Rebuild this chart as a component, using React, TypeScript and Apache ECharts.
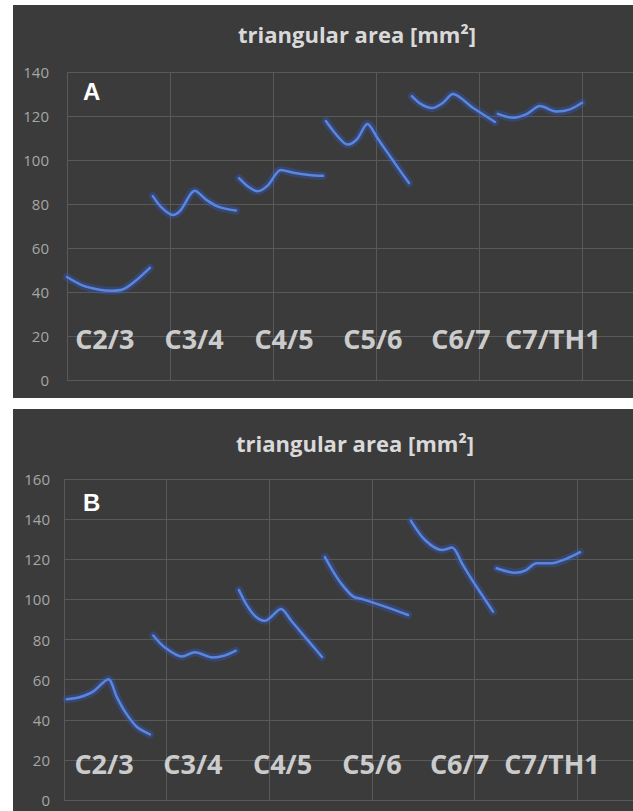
import { useEffect, useRef } from "react";
import * as echarts from "echarts";

const categories = ["C2/3", "C3/4", "C4/5", "C5/6", "C6/7", "C7/TH1"];
const chartTitle = "triangular area [mm²]";
const panelLetters = ["A", "B"];

const yMaxA = 140;
const yMaxB = 160;
const yStep = 20;
const xMax = 36;
const xStep = 6;

// segments of panel A, [position, area]
const segA1: [number, number][] = [[0, 46.8], [0.9, 43], [1.9, 41], [2.6, 40.6], [3.2, 41], [3.9, 44.5], [4.83, 51]];
const segA2: [number, number][] = [[5.0, 83.6], [5.5, 78.5], [6.15, 75], [6.6, 77], [7.45, 86], [8.1, 82], [8.8, 78.8], [9.84, 77]];
const segA3: [number, number][] = [[10.02, 91.8], [10.55, 88], [11.1, 85.8], [11.7, 88.5], [12.46, 95.5], [13.2, 94.2], [14.1, 93.2], [14.9, 92.8]];
const segA4: [number, number][] = [[15.08, 117.7], [15.7, 111.4], [16.35, 107], [16.9, 109.5], [17.5, 116.4], [18.1, 109.8], [18.7, 103], [19.3, 96.3], [19.92, 89.5]];
const segA5: [number, number][] = [[20.09, 129], [20.6, 125.5], [21.26, 123.6], [21.9, 126], [22.48, 130], [23.6, 124], [24.93, 117.3]];
const segA6: [number, number][] = [[25.1, 121], [25.98, 119.2], [26.8, 121], [27.55, 124.5], [28.54, 122], [29.3, 123], [30.0, 126]];

// segments of panel B
const segB1: [number, number][] = [[0.16, 50.2], [0.9, 51.2], [1.7, 54], [2.59, 60.2], [3.08, 51.5], [3.57, 44], [4.25, 36.5], [5.03, 32.7]];
const segB2: [number, number][] = [[5.22, 82], [5.9, 76], [6.9, 71.5], [7.66, 73.6], [8.7, 71], [9.4, 72], [10.05, 74.4]];
const segB3: [number, number][] = [[10.23, 104.7], [10.7, 97], [11.2, 91.5], [11.75, 89.3], [12.69, 95.2], [13.3, 89.2], [13.9, 83.2], [14.5, 77.2], [15.09, 71.3]];
const segB4: [number, number][] = [[15.26, 121.1], [15.7, 114.5], [16.2, 108], [16.9, 101.5], [17.5, 100], [18.9, 96], [20.12, 92.2]];
const segB5: [number, number][] = [[20.29, 139.1], [21.11, 129.6], [22.1, 124.6], [22.69, 125.8], [23.3, 117.5], [23.9, 109.2], [24.5, 101.5], [25.09, 93.9]];
const segB6: [number, number][] = [[25.3, 115.5], [26.37, 113.3], [27.0, 114.5], [27.64, 118], [28.52, 118], [29.4, 120.3], [30.18, 123.5]];

const segmentsA = [segA1, segA2, segA3, segA4, segA5, segA6];
const segmentsB = [segB1, segB2, segB3, segB4, segB5, segB6];

// where each category name sits in the plot
const labelPosA = [2.2, 7.4, 12.64, 17.82, 22.95, 28.3];
const labelPosB = [2.34, 7.54, 12.78, 18.01, 23.13, 28.54];
const labelValA = 19;
const labelValB = 18;

const BG = "#3b3b3b";
const GRID = "#595959";
const LINE = "#5b86e0";

export default function App() {
  const ref = useRef<HTMLDivElement>(null);
  useEffect(() => {
    if (!ref.current) return;
    const chart = echarts.init(ref.current, undefined, { renderer: "svg" });

    const xAxisBase = (gridIndex: number) => ({
      type: "value",
      gridIndex,
      min: 0,
      max: xMax,
      interval: xStep,
      axisLine: { show: false },
      axisTick: { show: false },
      axisLabel: { show: false },
      splitLine: { show: true, lineStyle: { color: GRID, width: 1 } },
    });
    const yAxisBase = (gridIndex: number, max: number, margin: number) => ({
      type: "value",
      gridIndex,
      min: 0,
      max,
      interval: yStep,
      axisLine: { show: false },
      axisTick: { show: false },
      axisLabel: { color: "#a6a6a6", fontSize: 15, fontFamily: "Open Sans", margin },
      splitLine: { show: true, lineStyle: { color: GRID, width: 1 } },
    });

    const lineSeries = (segs: [number, number][][], idx: number) =>
      segs.flatMap((seg) => [
        {
          type: "line",
          xAxisIndex: idx,
          yAxisIndex: idx,
          data: seg,
          smooth: 0.3,
          symbol: "none",
          showSymbol: false,
          silent: true,
          lineStyle: { color: "rgba(45,95,230,0.3)", width: 8, cap: "round", join: "round" },
          z: 2,
        },
        {
          type: "line",
          xAxisIndex: idx,
          yAxisIndex: idx,
          data: seg,
          smooth: 0.3,
          symbol: "none",
          showSymbol: false,
          lineStyle: { color: LINE, width: 2.5, cap: "round", join: "round" },
          z: 3,
        },
      ]);

    const labelSeries = (pos: number[], val: number, idx: number) => ({
      type: "scatter",
      xAxisIndex: idx,
      yAxisIndex: idx,
      symbolSize: 1,
      itemStyle: { color: "rgba(0,0,0,0)" },
      data: categories.map((c, i) => ({ name: c, value: [pos[i], val] })),
      label: {
        show: true,
        position: "inside",
        formatter: "{b}",
        color: "#f4f4f4",
        fontSize: 27,
        fontWeight: "bold",
        fontFamily: "Open Sans",
      },
      z: 4,
    });

    chart.setOption({
      animation: false,
      backgroundColor: "#ffffff",
      graphic: [
        { type: "rect", z: -100, shape: { x: 13, y: 5, width: 700, height: 393 }, style: { fill: BG } },
        { type: "rect", z: -100, shape: { x: 13, y: 409, width: 700, height: 402 }, style: { fill: BG } },
        {
          type: "text", x: 357, y: 34, z: 10,
          style: { text: chartTitle, fill: "#d9d9d9", font: "bold 22px 'Open Sans'", textAlign: "center", textVerticalAlign: "middle" },
        },
        {
          type: "text", x: 355, y: 443, z: 10,
          style: { text: chartTitle, fill: "#d9d9d9", font: "bold 22px 'Open Sans'", textAlign: "center", textVerticalAlign: "middle" },
        },
        {
          type: "text", x: 83, y: 91, z: 10,
          style: { text: panelLetters[0], fill: "#ffffff", font: "bold 24px 'Liberation Sans'", textAlign: "left", textVerticalAlign: "middle" },
        },
        {
          type: "text", x: 83, y: 502, z: 10,
          style: { text: panelLetters[1], fill: "#ffffff", font: "bold 24px 'Liberation Sans'", textAlign: "left", textVerticalAlign: "middle" },
        },
      ],
      grid: [
        { left: 67, top: 72, width: 618, height: 308, outerBoundsMode: "none" },
        { left: 64, top: 479, width: 615.6, height: 321, outerBoundsMode: "none" },
      ],
      xAxis: [xAxisBase(0), xAxisBase(1)],
      yAxis: [yAxisBase(0, yMaxA, 18), yAxisBase(1, yMaxB, 14)],
      series: [
        ...lineSeries(segmentsA, 0),
        ...lineSeries(segmentsB, 1),
        labelSeries(labelPosA, labelValA, 0),
        labelSeries(labelPosB, labelValB, 1),
      ],
    });
    return () => chart.dispose();
  }, []);

  return (
    <div style={{ position: "fixed", left: 0, top: 0, width: 633, height: 811, overflow: "hidden", background: "#fff" }}>
      <div ref={ref} style={{ width: 700, height: 811 }} />
    </div>
  );
}
